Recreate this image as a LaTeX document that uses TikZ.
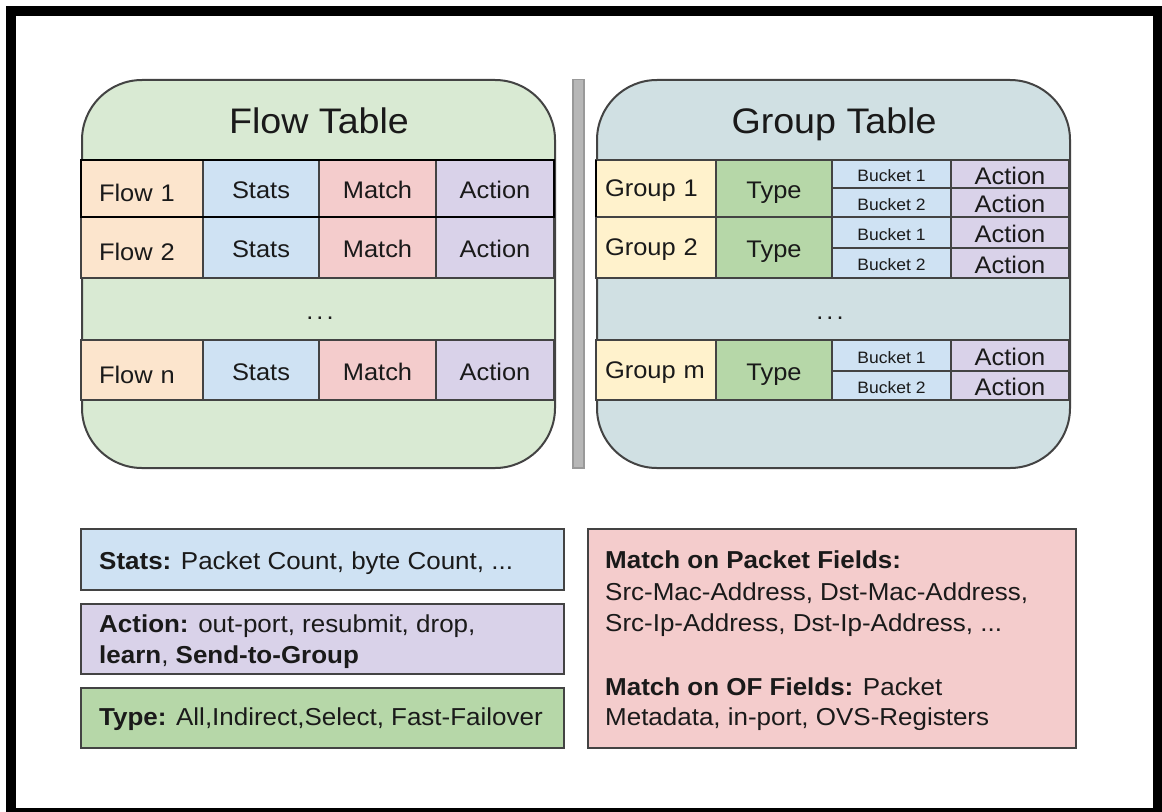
\documentclass[tikz,border=0pt]{standalone}
\usepackage{fontspec}
\setmainfont[FakeStretch=1.06]{Liberation Sans}

\definecolor{flowbg}{HTML}{D9EAD3}
\definecolor{groupbg}{HTML}{D0E0E3}
\definecolor{statsc}{HTML}{CFE2F3}
\definecolor{matchc}{HTML}{F4CCCC}
\definecolor{actionc}{HTML}{D9D2E9}
\definecolor{flowc}{HTML}{FCE5CD}
\definecolor{groupc}{HTML}{FFF2CC}
\definecolor{typec}{HTML}{B6D7A8}
\definecolor{edgec}{HTML}{434343}
\definecolor{sepfill}{HTML}{B7B7B7}
\definecolor{sepline}{HTML}{999999}
\definecolor{inkc}{HTML}{1A1A1A}

\tikzset{
  cell/.style={draw=edgec, line width=1.4bp, rectangle, inner sep=0pt, outer sep=0pt,
    anchor=north west, text=inkc, font=\fontsize{24bp}{28bp}\selectfont,
    text height=20bp, text depth=0bp},
  namecell/.style={inner xsep=#1, align=left},
  small/.style={font=\fontsize{16.5bp}{20bp}\selectfont, text height=15bp},
  tablebox/.style={draw=edgec, line width=2bp, rounded corners=60bp, anchor=north west,
    minimum width=473bp, minimum height=388bp, inner sep=0pt},
  title/.style={anchor=base, text=inkc, font=\fontsize{35.5bp}{40bp}\selectfont},
  dots/.style={anchor=base, text=inkc, font=\fontsize{24bp}{28bp}\selectfont},
  infobox/.style={draw=edgec, line width=2bp, anchor=north west, inner sep=0pt},
  infotext/.style={anchor=base west, inner sep=0pt, text=inkc, font=\fontsize{24.5bp}{31bp}\selectfont},
}

% name, x, y, width, height, fill, extra options, text
\newcommand\tcell[8]{\node[cell, fill=#6, minimum width=#4bp, minimum height=#5bp, #7] (#1) at (#2,#3) {#8};}
% widely spaced ellipsis
\newcommand\spdots{.\kern3bp.\kern3bp.}

\begin{document}
\begin{tikzpicture}[x=1bp, y=-1bp]
\useasboundingbox (0,0) rectangle (1162,812);

% page frame
\fill[white] (0,0) rectangle (1162,812);
\fill[black] (6,6) rectangle (1162,812);
\fill[white] (16,16) rectangle (1153,808);

% ---------------- flow table ----------------
\node[tablebox, fill=flowbg] (flowtable) at (81,79) {};
\node[title] (flowtitle) at (319,133) {Flow Table};

\tcell{f1}{81}{160}{122}{57}{flowc}{namecell=18bp, text width=86bp, text height=26bp}{Flow 1}
\tcell{s1}{203}{160}{116}{57}{statsc}{}{Stats}
\tcell{m1}{319}{160}{117}{57}{matchc}{}{Match}
\tcell{a1}{436}{160}{118}{57}{actionc}{}{Action}

\tcell{f2}{81}{217}{122}{61}{flowc}{namecell=18bp, text width=86bp, text height=26bp}{Flow 2}
\tcell{s2}{203}{217}{116}{61}{statsc}{}{Stats}
\tcell{m2}{319}{217}{117}{61}{matchc}{}{Match}
\tcell{a2}{436}{217}{118}{61}{actionc}{}{Action}

\node[dots] (flowdots) at (320,319) {\spdots};

\tcell{fn}{81}{340}{122}{60}{flowc}{namecell=18bp, text width=86bp, text height=26bp}{Flow n}
\tcell{sn}{203}{340}{116}{60}{statsc}{}{Stats}
\tcell{mn}{319}{340}{117}{60}{matchc}{}{Match}
\tcell{an}{436}{340}{118}{60}{actionc}{}{Action}

\draw[black, line width=1.6bp] (f1.north west) rectangle (a1.south east);

% ---------------- divider ----------------
\node[fill=sepfill, draw=sepline, line width=1.5bp, anchor=north west, inner sep=0pt,
  minimum width=11bp, minimum height=388bp] (divider) at (572,79) {};

% ---------------- group table ----------------
\node[tablebox, fill=groupbg] (grouptable) at (596,79) {};
\node[title] (grouptitle) at (834,133) {Group Table};

\tcell{g1}{596}{160}{120}{57}{groupc}{namecell=9bp, text width=102bp, text height=16bp}{Group 1}
\tcell{t1}{716}{160}{116}{57}{typec}{}{Type}
\tcell{b11}{832}{160}{119}{28}{statsc}{small}{Bucket 1}
\tcell{b12}{832}{188}{119}{29}{statsc}{small}{Bucket 2}
\tcell{ga11}{951}{160}{118}{28}{actionc}{}{Action}
\tcell{ga12}{951}{188}{118}{29}{actionc}{}{Action}

\tcell{g2}{596}{217}{120}{61}{groupc}{namecell=9bp, text width=102bp, text height=16bp}{Group 2}
\tcell{t2}{716}{217}{116}{61}{typec}{}{Type}
\tcell{b21}{832}{217}{119}{31}{statsc}{small}{Bucket 1}
\tcell{b22}{832}{248}{119}{30}{statsc}{small}{Bucket 2}
\tcell{ga21}{951}{217}{118}{31}{actionc}{}{Action}
\tcell{ga22}{951}{248}{118}{30}{actionc}{}{Action}

\node[dots] (groupdots) at (830,319) {\spdots};

\tcell{gm}{596}{340}{120}{60}{groupc}{namecell=9bp, text width=102bp, text height=16bp}{Group m}
\tcell{tm}{716}{340}{116}{60}{typec}{}{Type}
\tcell{bm1}{832}{340}{119}{31}{statsc}{small}{Bucket 1}
\tcell{bm2}{832}{371}{119}{29}{statsc}{small}{Bucket 2}
\tcell{gam1}{951}{340}{118}{31}{actionc}{}{Action}
\tcell{gam2}{951}{371}{118}{29}{actionc}{}{Action}

\draw[black, line width=1.6bp] (g1.north west) -- (g1.south west);

% ---------------- legend boxes ----------------
\node[infobox, fill=statsc, minimum width=483bp, minimum height=61bp] (statsbox) at (80,528) {};
\node[infotext] (statstext) at (99,569) {\textbf{Stats:} Packet Count, byte Count, ...};

\node[infobox, fill=actionc, minimum width=483bp, minimum height=70bp] (actionbox) at (80,603) {};
\node[infotext] (actiontexta) at (99,632) {\textbf{Action:} out-port, resubmit, drop,};
\node[infotext] (actiontextb) at (99,663) {\textbf{learn}, \textbf{Send-to-Group}};

\node[infobox, fill=typec, minimum width=483bp, minimum height=60bp] (typebox) at (80,687) {};
\node[infotext] (typetext) at (99,725) {\textbf{Type:} All,Indirect,Select, Fast-Failover};

\node[infobox, fill=matchc, minimum width=488bp, minimum height=219bp] (matchbox) at (587,528) {};
\node[infotext] (matchtexta) at (605,568) {\textbf{Match on Packet Fields:}};
\node[infotext] (matchtextb) at (605,600) {Src-Mac-Address, Dst-Mac-Address,};
\node[infotext] (matchtextc) at (605,631) {Src-Ip-Address, Dst-Ip-Address, ...};
\node[infotext] (matchtextd) at (605,695) {\textbf{Match on OF Fields:} Packet};
\node[infotext] (matchtexte) at (605,725) {Metadata, in-port, OVS-Registers};

\end{tikzpicture}
\end{document}
